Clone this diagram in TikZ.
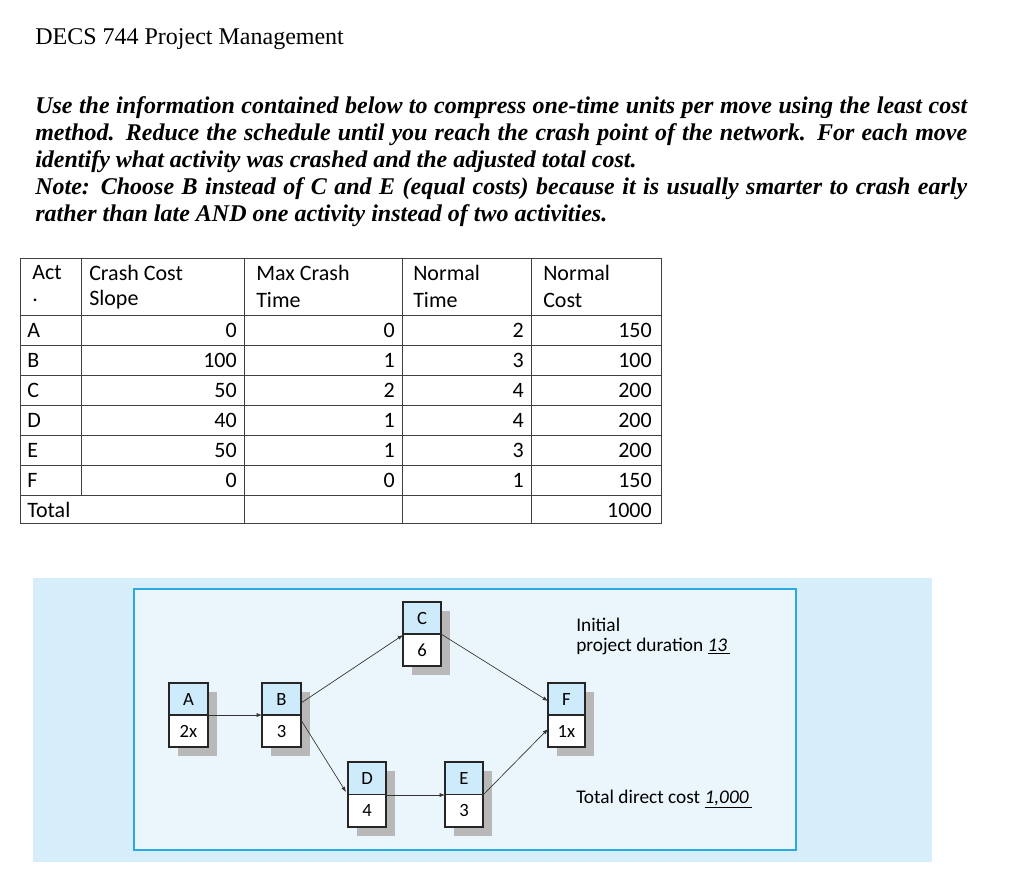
\documentclass[tikz,border=0pt]{standalone}
\usepackage{fontspec}
\setmainfont{Liberation Serif}
\newfontfamily\tabfont{Carlito}
\usetikzlibrary{arrows.meta}
\definecolor{bgblue}{HTML}{D5EEF9}
\definecolor{inblue}{HTML}{EAF6FC}
\definecolor{cyanb}{HTML}{2AA8DF}
\definecolor{topblue}{HTML}{CDEBFA}
\definecolor{shad}{HTML}{B8B8B8}
\newcommand{\jline}[1]{\hbox to 699pt{#1}}
\tikzset{
 tl/.style={font=\tabfont\fontsize{16.5pt}{18pt}\selectfont, inner sep=0pt},
 num/.style={tl, anchor=east},
 hd/.style={tl, anchor=west},
 para/.style={font=\fontsize{18pt}{20pt}\selectfont\bfseries\itshape, anchor=base west, inner sep=0pt},
 lab/.style={font=\tabfont\fontsize{14.5pt}{16pt}\selectfont, inner sep=0pt},
 blab/.style={font=\tabfont\fontsize{14pt}{16pt}\selectfont, inner sep=0pt},
 conn/.style={draw=black!80, line width=0.5pt, -{Latex[length=4pt,width=3pt]}},
}
\begin{document}
\begin{tikzpicture}[x=0.75pt,y=-0.75pt]
\useasboundingbox (0,0) rectangle (1028,894);
\fill[white] (0,0) rectangle (1028,894);
\node[font=\fontsize{18pt}{20pt}\selectfont, anchor=base west, inner sep=0pt] (title) at (35,44) {DECS 744 Project Management};
\node[para] (p1) at (35,113) {\jline{Use the information contained below to compress one-time units per move using the least cost}};
\node[para] (p2) at (35,140) {\jline{method. Reduce the schedule until you reach the crash point of the network. For each move}};
\node[para] (p3) at (35,167) {identify what activity was crashed and the adjusted total cost.};
\node[para] (p4) at (35,194) {\jline{Note: Choose B instead of C and E (equal costs) because it is usually smarter to crash early}};
\node[para] (p5) at (35,221) {rather than late AND one activity instead of two activities.};
% table
\draw[black!75, line width=0.7pt] (20,258) rectangle (661,523);
\foreach \y in {315,345,375,405,435,465,495} \draw[black!75, line width=0.7pt] (20,\y) -- (661,\y);
\foreach \x in {244,402,531} \draw[black!75, line width=0.7pt] (\x,258) -- (\x,523);
\draw[black!75, line width=0.7pt] (81,258) -- (81,495);
\node[hd] (h1a) at (32,273) {Act};
\node[hd] (h1b) at (32,300) {.};
\node[hd] (h2a) at (89,273) {Crash Cost};
\node[hd] (h2b) at (89,300) {Slope};
\node[hd] (h3a) at (256,273) {Max Crash};
\node[hd] (h3b) at (256,300) {Time};
\node[hd] (h4a) at (413,273) {Normal};
\node[hd] (h4b) at (413,300) {Time};
\node[hd] (h5a) at (543,273) {Normal};
\node[hd] (h5b) at (543,300) {Cost};
\foreach \a/\s/\m/\t/\c [count=\i] in {A/0/0/2/150,B/100/1/3/100,C/50/2/4/200,D/40/1/4/200,E/50/1/3/200,F/0/0/1/150}{
 \pgfmathsetmacro{\yy}{300+30*\i}
 \node[hd] (ra\i) at (27,\yy) {\a};
 \node[num] (rs\i) at (237,\yy) {\s};
 \node[num] (rm\i) at (395,\yy) {\m};
 \node[num] (rt\i) at (524,\yy) {\t};
 \node[num] (rc\i) at (652,\yy) {\c};
}
\node[hd] (tot) at (27,510) {Total};
\node[num] (totv) at (652,510) {1000};
% network panel
\fill[bgblue] (33,578) rectangle (932,862);
\fill[inblue, draw=cyanb, line width=2pt] (134,589) rectangle (796,850);
\foreach \n/\xa/\ya/\xb/\yb/\t/\b in {A/169/683/208/747/A/2x, B/262/683/301/747/B/3, C/403/602/441/666/C/6, D/348/762/386/827/D/4, E/445/762/483/827/E/3, F/548/683/585/747/F/1x}{
 \fill[shad] (\xa+9,\ya+9) rectangle (\xb+9,\yb+9);
 \pgfmathsetmacro{\ym}{(\ya+\yb)/2}
 \fill[topblue] (\xa,\ya) rectangle (\xb,\ym);
 \fill[white] (\xa,\ym) rectangle (\xb,\yb);
 \draw[black!85, line width=1pt] (\xa,\ya) rectangle (\xb,\yb);
 \draw[black!85, line width=0.8pt] (\xa,\ym) -- (\xb,\ym);
 \node[blab] (\n t) at ({(\xa+\xb)/2},{(\ya+\ym)/2}) {\t};
 \node[blab] (\n b) at ({(\xa+\xb)/2},{(\ym+\yb)/2}) {\b};
 \coordinate (\n) at ({(\xa+\xb)/2},\ym);
}
\coordinate (aout) at (208,715); \coordinate (bin) at (262,715);
\coordinate (bout1) at (301,703); \coordinate (cin) at (403,635);
\coordinate (cout) at (441,634); \coordinate (fin1) at (548,701);
\coordinate (bout2) at (301,720); \coordinate (din) at (346,792);
\coordinate (dout) at (386,795); \coordinate (ein) at (445,795);
\coordinate (eout) at (483,795); \coordinate (fin2) at (548,729);
\draw[conn] (aout) -- (bin);
\draw[conn] (bout1) -- (cin);
\draw[conn] (cout) -- (fin1);
\draw[conn] (bout2) -- (din);
\draw[conn] (dout) -- (ein);
\draw[conn] (eout) -- (fin2);
\node[lab, anchor=base west] (ini) at (576,631) {Initial};
\node[lab, anchor=base west] (dur) at (576,651) {project duration \underline{\itshape 13\,}};
\node[lab, anchor=base west] (cost) at (576,803) {Total direct cost \underline{\itshape 1,000\,}};
\end{tikzpicture}
\end{document}
